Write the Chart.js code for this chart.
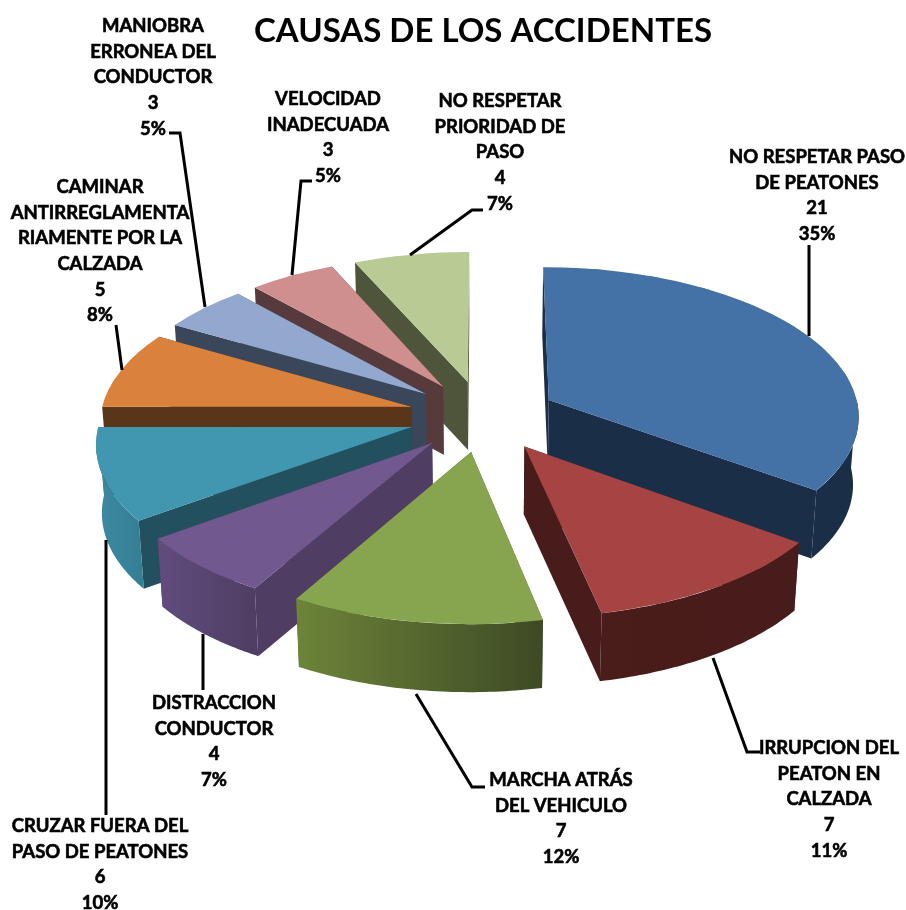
<!DOCTYPE html>
<html lang="es">
<head>
<meta charset="utf-8">
<title>Causas de los accidentes</title>
<script src="https://cdn.jsdelivr.net/npm/chart.js@4"></script>
<style>
  html, body { margin: 0; background: #fff; }
  canvas { display: block; }
</style>
</head>
<body>
<canvas id="pie" width="906" height="910"></canvas>
<script>
(() => {
    'use strict';

    const titleText = 'CAUSAS DE LOS ACCIDENTES';
    const categories = [
        'NO RESPETAR PASO DE PEATONES',
        'IRRUPCION DEL PEATON EN CALZADA',
        'MARCHA ATRÁS DEL VEHICULO',
        'DISTRACCION CONDUCTOR',
        'CRUZAR FUERA DEL PASO DE PEATONES',
        'CAMINAR ANTIRREGLAMENTARIAMENTE POR LA CALZADA',
        'MANIOBRA ERRONEA DEL CONDUCTOR',
        'VELOCIDAD INADECUADA',
        'NO RESPETAR PRIORIDAD DE PASO'
    ];
    const values = [21, 7, 7, 4, 6, 5, 3, 3, 4];
    const percents = ['35%', '11%', '12%', '7%', '10%', '8%', '5%', '5%', '7%'];

    // label wrapping as it appears on the chart
    const wrapped = [
        ['NO RESPETAR PASO', 'DE PEATONES'],
        ['IRRUPCION DEL', 'PEATON EN', 'CALZADA'],
        ['MARCHA ATRÁS', 'DEL VEHICULO'],
        ['DISTRACCION', 'CONDUCTOR'],
        ['CRUZAR FUERA DEL', 'PASO DE PEATONES'],
        ['CAMINAR', 'ANTIRREGLAMENTA', 'RIAMENTE POR LA', 'CALZADA'],
        ['MANIOBRA', 'ERRONEA DEL', 'CONDUCTOR'],
        ['VELOCIDAD', 'INADECUADA'],
        ['NO RESPETAR', 'PRIORIDAD DE', 'PASO']
    ];

    const topColors = ['#4472a6', '#a54442', '#87a44e', '#71588f', '#4197b0', '#da823c', '#92a8ce', '#cf8f8e', '#b8cb95'];
    const wallColors = ['#1b2e47', '#471c1a', '#4a5a2b', '#4f3d63', '#22505e', '#5a351a', '#3a465a', '#573b3c', '#4f553a'];
    const rimLeft = ['#1b2e47', '#4a1c1a', '#6d8439', '#614c7e', '#3d8aa2', '#5a351a', '#3a465a', '#573b3c', '#4f553a'];
    const rimRight = ['#1b2e47', '#471c1a', '#3d4a24', '#4f3e63', '#357f95', '#5a351a', '#3a465a', '#573b3c', '#4f553a'];

    // label anchor: centre x, first line y
    const labelX = [817, 829, 561, 214, 100, 100, 153, 328, 500];
    const labelY = [157, 748, 780, 703, 826, 187, 26, 99, 101];
    const lineStep = 25.7;
    const leaders = [
        [[809, 245], [809, 336]],
        [[713, 658], [747, 752], [760, 752]],
        [[416, 694], [472, 787], [485, 787]],
        [[203, 634], [203, 690]],
        [[106, 540], [106, 815]],
        [[116, 325], [122, 370]],
        [[169, 133], [180, 133], [205, 307]],
        [[312, 181], [301, 181], [292, 275]],
        [[483, 210], [472, 210], [410, 255]]
    ];

    // viewing setup for the tilted pie
    const view = { cx: 483, cy: 416, sx: 311, sy: 148.4, persp: 0.0954, depth: 68, floor: 0.985, explode: 0.24 };

    const project = (x, y) => {
        const w = 1 / (1 - view.persp * y);
        return [view.cx + view.sx * x * w, view.cy + view.sy * y * w];
    };
    const drop = p => [view.cx + (p[0] - view.cx) * view.floor, p[1] + view.depth];

    const fillPoly = (ctx, pts, fill) => {
        ctx.beginPath();
        pts.forEach((p, i) => i ? ctx.lineTo(p[0], p[1]) : ctx.moveTo(p[0], p[1]));
        ctx.closePath();
        ctx.fillStyle = fill;
        ctx.fill();
    };

    // draws the library's arc through short affine pieces so the wedge follows the perspective
    const drawTop = (ctx, chart, arc, s, e, gx, gy, A) => {
        const { x, y, outerRadius: R } = arc.getProps(['x', 'y', 'outerRadius']);
        const rim = t => project(gx + Math.cos(t), gy + Math.sin(t));
        const n = Math.ceil((e - s) / 0.2);
        for (let j = 0; j < n; j++) {
            const t0 = s + (e - s) * j / n, t1 = s + (e - s) * (j + 1) / n;
            const S = rim(t0), E = rim(t1);
            const ux = R * Math.cos(t0), uy = R * Math.sin(t0), vx = R * Math.cos(t1), vy = R * Math.sin(t1);
            const det = ux * vy - vx * uy;
            const Ux = S[0] - A[0], Uy = S[1] - A[1], Vx = E[0] - A[0], Vy = E[1] - A[1];
            const a = (Ux * vy - Vx * uy) / det;
            const c = (Vx * ux - Ux * vx) / det;
            const b = (Uy * vy - Vy * uy) / det;
            const d = (Vy * ux - Uy * vx) / det;
            ctx.save();
            // neighbours overlap a little and start behind the apex, which hides the seams
            const out = t => {
                const p = rim(t);
                return [A[0] + (p[0] - A[0]) * 1.2, A[1] + (p[1] - A[1]) * 1.2];
            };
            const p0 = out(t0 - 0.02), p1 = out(t1 + 0.02);
            const mx = (p0[0] + p1[0]) / 2 - A[0], my = (p0[1] + p1[1]) / 2 - A[1];
            const len = Math.hypot(mx, my);
            ctx.beginPath();
            ctx.moveTo(A[0] - mx / len * 5, A[1] - my / len * 5);
            ctx.lineTo(p0[0], p0[1]);
            ctx.lineTo(p1[0], p1[1]);
            ctx.closePath();
            ctx.clip();
            ctx.transform(a, b, c, d, A[0] - a * x - c * y, A[1] - b * x - d * y);
            arc.draw(ctx, chart.chartArea);
            ctx.restore();
        }
    };

    const pie3d = {
        id: 'pie3d',
        beforeDatasetDraw(chart, args) {
            const ctx = chart.ctx;
            const arcs = chart.getDatasetMeta(args.index).data;
            const slices = arcs.map((arc, i) => {
                const { startAngle: s, endAngle: e } = arc.getProps(['startAngle', 'endAngle']);
                return { arc, i, s, e, mid: (s + e) / 2 };
            });
            slices.sort((p, q) => Math.sin(p.mid) - Math.sin(q.mid));

            slices.forEach(({ arc, i, s, e, mid }) => {
                const gx = Math.cos(mid) * view.explode;
                const gy = Math.sin(mid) * view.explode;
                const A = project(gx, gy);
                const rim = t => project(gx + Math.cos(t), gy + Math.sin(t));
                // straight cut faces
                [s, e].forEach(t => {
                    const b = rim(t);
                    fillPoly(ctx, [A, b, drop(b), drop(A)], wallColors[i]);
                });
                // curved outer wall, only the part facing the viewer
                const from = Math.max(s, 0), to = Math.min(e, Math.PI);
                if (to > from) {
                    const top = [];
                    for (let k = 0; k <= 48; k++) top.push(rim(from + (to - from) * k / 48));
                    const low = top.map(drop).reverse();
                    const xs = top.map(p => p[0]);
                    const grad = ctx.createLinearGradient(Math.min(...xs), 0, Math.max(...xs), 0);
                    grad.addColorStop(0, rimLeft[i]);
                    grad.addColorStop(1, rimRight[i]);
                    fillPoly(ctx, top.concat(low), grad);
                }
                drawTop(ctx, chart, arc, s, e, gx, gy, A);
            });
            return false;
        },
        afterDraw(chart) {
            const ctx = chart.ctx;
            ctx.save();
            ctx.strokeStyle = '#000';
            ctx.lineWidth = 3;
            ctx.lineJoin = 'miter';
            leaders.forEach(line => {
                ctx.beginPath();
                line.forEach((p, i) => i ? ctx.lineTo(p[0], p[1]) : ctx.moveTo(p[0], p[1]));
                ctx.stroke();
            });
            ctx.fillStyle = '#000';
            ctx.font = 'bold 18.5px Lato';
            ctx.textAlign = 'center';
            ctx.textBaseline = 'middle';
            ctx.lineWidth = 0.6;
            wrapped.forEach((lines, i) => {
                lines.concat([String(values[i]), percents[i]]).forEach((txt, k) => {
                    ctx.fillText(txt, labelX[i], labelY[i] + k * lineStep);
                    ctx.strokeText(txt, labelX[i], labelY[i] + k * lineStep);
                });
            });
            ctx.restore();
        }
    };

    new Chart(document.getElementById('pie'), {
        type: 'pie',
        data: {
            labels: categories,
            datasets: [{
                data: values,
                backgroundColor: topColors,
                borderWidth: 0,
                radius: 300
            }]
        },
        options: {
            responsive: false,
            animation: false,
            layout: { padding: { left: 60 } },
            plugins: {
                legend: { display: false },
                tooltip: { enabled: false },
                title: {
                    display: true,
                    text: titleText,
                    color: '#000',
                    font: { family: 'Lato', size: 33, weight: 'bold' },
                    padding: { top: 12, bottom: 0 }
                }
            }
        },
        plugins: [pie3d]
    });
})();
</script>
</body>
</html>
